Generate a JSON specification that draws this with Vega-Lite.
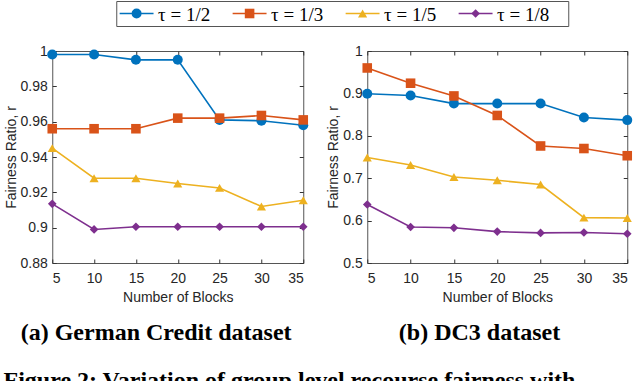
{
  "$schema": "https://vega.github.io/schema/vega-lite/v6.json",
  "padding": {"left": 3, "top": 0, "right": 5, "bottom": 0},
  "background": "white",
  "title": {
    "text": "Figure 2: Variation of group level recourse fairness with",
    "orient": "bottom", "anchor": "start", "font": "Liberation Serif", "fontWeight": "bold",
    "fontSize": 24, "color": "#000000", "offset": 23
  },
  "datasets": {
    "legend": [
      {"tau": "1/2", "label": "τ = 1/2"},
      {"tau": "1/3", "label": "τ = 1/3"},
      {"tau": "1/5", "label": "τ = 1/5"},
      {"tau": "1/8", "label": "τ = 1/8"}
    ],
    "results": [
      {"dataset": "German", "tau": "1/2", "blocks": 5, "r": 0.998},
      {"dataset": "German", "tau": "1/2", "blocks": 10, "r": 0.998},
      {"dataset": "German", "tau": "1/2", "blocks": 15, "r": 0.995},
      {"dataset": "German", "tau": "1/2", "blocks": 20, "r": 0.995},
      {"dataset": "German", "tau": "1/2", "blocks": 25, "r": 0.961},
      {"dataset": "German", "tau": "1/2", "blocks": 30, "r": 0.9605},
      {"dataset": "German", "tau": "1/2", "blocks": 35, "r": 0.958},
      {"dataset": "German", "tau": "1/3", "blocks": 5, "r": 0.956},
      {"dataset": "German", "tau": "1/3", "blocks": 10, "r": 0.956},
      {"dataset": "German", "tau": "1/3", "blocks": 15, "r": 0.956},
      {"dataset": "German", "tau": "1/3", "blocks": 20, "r": 0.962},
      {"dataset": "German", "tau": "1/3", "blocks": 25, "r": 0.962},
      {"dataset": "German", "tau": "1/3", "blocks": 30, "r": 0.9635},
      {"dataset": "German", "tau": "1/3", "blocks": 35, "r": 0.961},
      {"dataset": "German", "tau": "1/5", "blocks": 5, "r": 0.945},
      {"dataset": "German", "tau": "1/5", "blocks": 10, "r": 0.928},
      {"dataset": "German", "tau": "1/5", "blocks": 15, "r": 0.928},
      {"dataset": "German", "tau": "1/5", "blocks": 20, "r": 0.925},
      {"dataset": "German", "tau": "1/5", "blocks": 25, "r": 0.9225},
      {"dataset": "German", "tau": "1/5", "blocks": 30, "r": 0.912},
      {"dataset": "German", "tau": "1/5", "blocks": 35, "r": 0.9155},
      {"dataset": "German", "tau": "1/8", "blocks": 5, "r": 0.9135},
      {"dataset": "German", "tau": "1/8", "blocks": 10, "r": 0.899},
      {"dataset": "German", "tau": "1/8", "blocks": 15, "r": 0.9005},
      {"dataset": "German", "tau": "1/8", "blocks": 20, "r": 0.9005},
      {"dataset": "German", "tau": "1/8", "blocks": 25, "r": 0.9005},
      {"dataset": "German", "tau": "1/8", "blocks": 30, "r": 0.9005},
      {"dataset": "German", "tau": "1/8", "blocks": 35, "r": 0.9005},
      {"dataset": "DC3", "tau": "1/2", "blocks": 5, "r": 0.899},
      {"dataset": "DC3", "tau": "1/2", "blocks": 10, "r": 0.895},
      {"dataset": "DC3", "tau": "1/2", "blocks": 15, "r": 0.876},
      {"dataset": "DC3", "tau": "1/2", "blocks": 20, "r": 0.876},
      {"dataset": "DC3", "tau": "1/2", "blocks": 25, "r": 0.876},
      {"dataset": "DC3", "tau": "1/2", "blocks": 30, "r": 0.843},
      {"dataset": "DC3", "tau": "1/2", "blocks": 35, "r": 0.837},
      {"dataset": "DC3", "tau": "1/3", "blocks": 5, "r": 0.96},
      {"dataset": "DC3", "tau": "1/3", "blocks": 10, "r": 0.924},
      {"dataset": "DC3", "tau": "1/3", "blocks": 15, "r": 0.894},
      {"dataset": "DC3", "tau": "1/3", "blocks": 20, "r": 0.848},
      {"dataset": "DC3", "tau": "1/3", "blocks": 25, "r": 0.776},
      {"dataset": "DC3", "tau": "1/3", "blocks": 30, "r": 0.77},
      {"dataset": "DC3", "tau": "1/3", "blocks": 35, "r": 0.753},
      {"dataset": "DC3", "tau": "1/5", "blocks": 5, "r": 0.749},
      {"dataset": "DC3", "tau": "1/5", "blocks": 10, "r": 0.731},
      {"dataset": "DC3", "tau": "1/5", "blocks": 15, "r": 0.703},
      {"dataset": "DC3", "tau": "1/5", "blocks": 20, "r": 0.695},
      {"dataset": "DC3", "tau": "1/5", "blocks": 25, "r": 0.685},
      {"dataset": "DC3", "tau": "1/5", "blocks": 30, "r": 0.607},
      {"dataset": "DC3", "tau": "1/5", "blocks": 35, "r": 0.606},
      {"dataset": "DC3", "tau": "1/8", "blocks": 5, "r": 0.638},
      {"dataset": "DC3", "tau": "1/8", "blocks": 10, "r": 0.585},
      {"dataset": "DC3", "tau": "1/8", "blocks": 15, "r": 0.583},
      {"dataset": "DC3", "tau": "1/8", "blocks": 20, "r": 0.574},
      {"dataset": "DC3", "tau": "1/8", "blocks": 25, "r": 0.571},
      {"dataset": "DC3", "tau": "1/8", "blocks": 30, "r": 0.572},
      {"dataset": "DC3", "tau": "1/8", "blocks": 35, "r": 0.569}
    ]
  },
  "vconcat": [
    {
      "width": 452,
      "height": 25,
      "data": {"name": "legend"},
      "view": {"stroke": "#555555", "strokeWidth": 1},
      "encoding": {
        "y": {"datum": 0, "type": "quantitative", "scale": {"domain": [-1, 1]}, "axis": null}
      },
      "layer": [
        {
          "mark": {"type": "rule", "strokeWidth": 1.6},
          "encoding": {
            "x": {"field": "tau", "type": "nominal", "bandPosition": 0.03,
                  "scale": {"type": "band", "paddingInner": 0, "paddingOuter": 0}, "axis": null},
            "x2": {"field": "tau", "bandPosition": 0.33},
            "color": {"field": "tau", "type": "nominal",
                      "scale": {"domain": ["1/2", "1/3", "1/5", "1/8"], "range": ["#0072BD", "#D95319", "#EDB120", "#7E2F8E"]},
                      "legend": null}
          }
        },
        {
          "mark": {"type": "point", "filled": true, "opacity": 1},
          "encoding": {
            "x": {"field": "tau", "type": "nominal", "bandPosition": 0.18, "axis": null},
            "color": {"field": "tau", "type": "nominal", "legend": null},
            "shape": {"field": "tau", "type": "nominal",
                      "scale": {"domain": ["1/2", "1/3", "1/5", "1/8"], "range": ["circle", "square", "triangle-up", "diamond"]},
                      "legend": null},
            "size": {"field": "tau", "type": "nominal",
                     "scale": {"domain": ["1/2", "1/3", "1/5", "1/8"], "range": [100, 75, 160, 120]},
                     "legend": null}
          }
        },
        {
          "mark": {"type": "text", "align": "left", "baseline": "middle", "font": "Liberation Serif", "fontSize": 19, "color": "#000000", "dy": 1},
          "encoding": {
            "x": {"field": "tau", "type": "nominal", "bandPosition": 0.37, "axis": null},
            "text": {"field": "label"}
          }
        }
      ]
    },
    {
      "hconcat": [
        {
          "width": 251,
          "height": 212,
          "data": {"name": "results"},
          "transform": [{"filter": "datum.dataset === 'German'"}],
          "title": {"text": "(a) German Credit dataset", "orient": "bottom", "frame": "bounds", "font": "Liberation Serif", "fontWeight": "bold", "fontSize": 24, "color": "#000000", "offset": 17},
          "layer": [
            {
              "mark": {"type": "line", "strokeWidth": 1.6},
              "encoding": {
                "x": {"field": "blocks", "type": "quantitative", "scale": {"domain": [5, 35], "zero": false, "nice": false},
                      "axis": {"values": [5, 10, 15, 20, 25, 30, 35], "title": "Number of Blocks", "orient": "bottom"}},
                "y": {"field": "r", "type": "quantitative", "scale": {"domain": [0.88, 1], "zero": false, "nice": false},
                      "axis": {"values": [0.88, 0.9, 0.92, 0.94, 0.96, 0.98, 1], "format": "~g", "title": "Fairness Ratio, r", "orient": "left"}},
                "color": {"field": "tau", "type": "nominal",
                          "scale": {"domain": ["1/2", "1/3", "1/5", "1/8"], "range": ["#0072BD", "#D95319", "#EDB120", "#7E2F8E"]},
                          "legend": null}
              }
            },
            {
              "mark": {"type": "point", "filled": true, "opacity": 1},
              "encoding": {
                "x": {"field": "blocks", "type": "quantitative", "scale": {"domain": [5, 35], "zero": false, "nice": false},
                      "axis": {"values": [5, 10, 15, 20, 25, 30, 35], "orient": "top", "labels": false, "title": null}},
                "y": {"field": "r", "type": "quantitative", "scale": {"domain": [0.88, 1], "zero": false, "nice": false},
                      "axis": {"values": [0.88, 0.9, 0.92, 0.94, 0.96, 0.98, 1], "orient": "right", "labels": false, "title": null}},
                "color": {"field": "tau", "type": "nominal", "legend": null},
                "shape": {"field": "tau", "type": "nominal",
                          "scale": {"domain": ["1/2", "1/3", "1/5", "1/8"], "range": ["circle", "square", "triangle-up", "diamond"]},
                          "legend": null},
                "size": {"field": "tau", "type": "nominal",
                         "scale": {"domain": ["1/2", "1/3", "1/5", "1/8"], "range": [60, 45, 100, 70]},
                         "legend": null}
              }
            }
          ],
          "resolve": {"axis": {"x": "independent", "y": "independent"}}
        },
        {
          "width": 260,
          "height": 212,
          "data": {"name": "results"},
          "transform": [{"filter": "datum.dataset === 'DC3'"}],
          "title": {"text": "(b) DC3 dataset", "orient": "bottom", "frame": "bounds", "font": "Liberation Serif", "fontWeight": "bold", "fontSize": 24, "color": "#000000", "offset": 17},
          "layer": [
            {
              "mark": {"type": "line", "strokeWidth": 1.6},
              "encoding": {
                "x": {"field": "blocks", "type": "quantitative", "scale": {"domain": [5, 35], "zero": false, "nice": false},
                      "axis": {"values": [5, 10, 15, 20, 25, 30, 35], "title": "Number of Blocks", "orient": "bottom"}},
                "y": {"field": "r", "type": "quantitative", "scale": {"domain": [0.5, 1], "zero": false, "nice": false},
                      "axis": {"values": [0.5, 0.6, 0.7, 0.8, 0.9, 1], "format": "~g", "title": "Fairness Ratio, r", "orient": "left"}},
                "color": {"field": "tau", "type": "nominal",
                          "scale": {"domain": ["1/2", "1/3", "1/5", "1/8"], "range": ["#0072BD", "#D95319", "#EDB120", "#7E2F8E"]},
                          "legend": null}
              }
            },
            {
              "mark": {"type": "point", "filled": true, "opacity": 1},
              "encoding": {
                "x": {"field": "blocks", "type": "quantitative", "scale": {"domain": [5, 35], "zero": false, "nice": false},
                      "axis": {"values": [5, 10, 15, 20, 25, 30, 35], "orient": "top", "labels": false, "title": null}},
                "y": {"field": "r", "type": "quantitative", "scale": {"domain": [0.5, 1], "zero": false, "nice": false},
                      "axis": {"values": [0.5, 0.6, 0.7, 0.8, 0.9, 1], "orient": "right", "labels": false, "title": null}},
                "color": {"field": "tau", "type": "nominal", "legend": null},
                "shape": {"field": "tau", "type": "nominal",
                          "scale": {"domain": ["1/2", "1/3", "1/5", "1/8"], "range": ["circle", "square", "triangle-up", "diamond"]},
                          "legend": null},
                "size": {"field": "tau", "type": "nominal",
                         "scale": {"domain": ["1/2", "1/3", "1/5", "1/8"], "range": [60, 45, 100, 70]},
                         "legend": null}
              }
            }
          ],
          "resolve": {"axis": {"x": "independent", "y": "independent"}}
        }
      ],
      "spacing": 17
    }
  ],
  "spacing": 16,
  "center": true,
  "config": {
    "font": "Liberation Sans",
    "view": {"stroke": "#555555", "strokeWidth": 1},
    "axisX": {"labelPadding": 12, "titlePadding": 5},
    "axisY": {"labelPadding": 9, "titlePadding": 2},
    "axis": {
      "domain": false,
      "grid": false,
      "ticks": true,
      "tickSize": -4,
      "tickColor": "#333333",
      "labelFont": "Liberation Sans",
      "labelFontSize": 14,
      "labelColor": "#262626",
      "titleFont": "Liberation Sans",
      "titleFontSize": 14,
      "titleFontWeight": "normal",
      "titleColor": "#262626"
    }
  }
}
